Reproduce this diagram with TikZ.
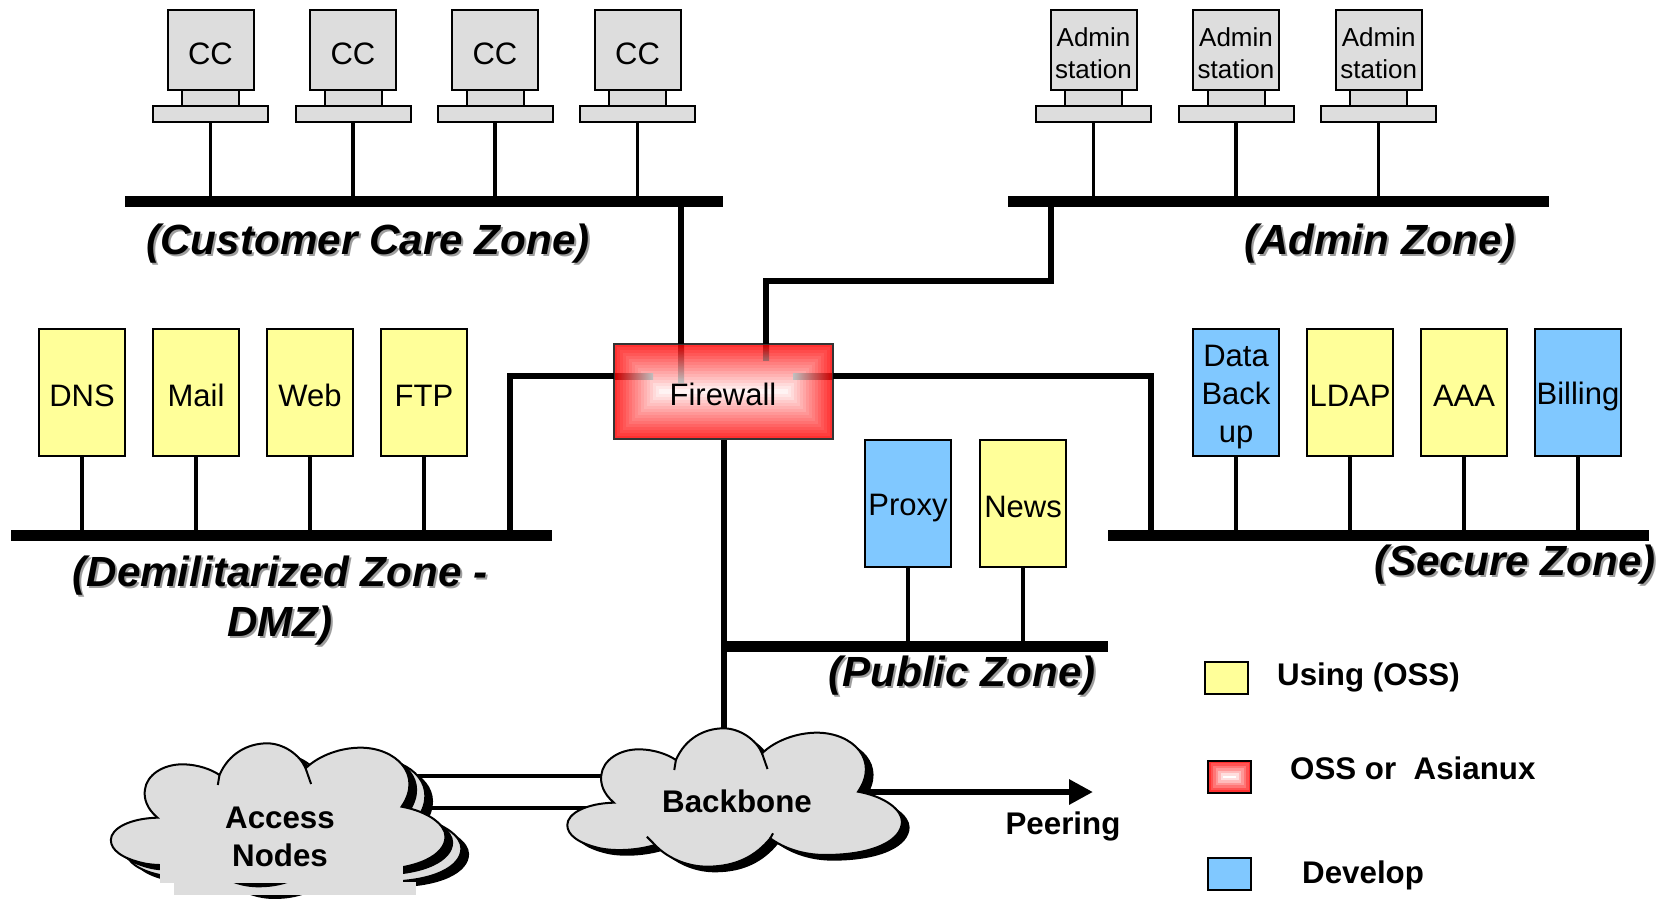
\documentclass[tikz,border=0pt]{standalone}
\usepackage{fontspec}
\setmainfont{Liberation Sans}
\usetikzlibrary{arrows.meta}
\definecolor{boxyellow}{HTML}{FFFF99}
\definecolor{boxblue}{HTML}{80C8FF}
\definecolor{boxgray}{HTML}{DDDDDD}
\definecolor{fwred}{HTML}{FF3030}
\newcommand{\sv}{\rule[-3pt]{0pt}{33pt}}
\newcommand{\cloudshape}{(1068,180)
 .. controls (1085,115) and (1120,85) .. (1155,85)
 .. controls (1185,85) and (1215,120) .. (1225,160)
 .. controls (1250,120) and (1290,98) .. (1325,98)
 .. controls (1390,98) and (1440,180) .. (1400,275)
 .. controls (1450,290) and (1480,330) .. (1480,365)
 .. controls (1480,420) and (1430,465) .. (1340,465)
 .. controls (1300,465) and (1265,445) .. (1240,415)
 .. controls (1215,465) and (1180,500) .. (1125,500)
 .. controls (1085,500) and (1050,470) .. (1030,435)
 .. controls (1000,450) and (960,455) .. (930,445)
 .. controls (890,430) and (870,405) .. (870,375)
 .. controls (870,340) and (905,310) .. (955,308)
 .. controls (935,280) and (930,250) .. (932,225)
 .. controls (935,180) and (965,148) .. (1000,148)
 .. controls (1030,148) and (1055,165) .. (1068,180) -- cycle}
\newcommand{\cloudtails}{(1068,180) -- (1065,210) (1225,160) -- (1235,207) (1245,400) -- (1240,415) (1015,410) -- (1030,435)}
\tikzset{
 x=1pt,y=-1pt,
 srv/.style={draw=black,line width=1.6pt,inner sep=0pt,minimum width=86pt,minimum height=127pt,font=\fontsize{31}{38}\selectfont,align=center},
 small/.style={draw=black,line width=2pt,fill=boxgray,inner sep=0pt},
 stem/.style={line width=3.5pt},
 bus/.style={line width=11pt},
 link/.style={line width=6pt},
 zone/.style={inner sep=0pt,font=\fontsize{42.2}{50}\bfseries\itshape\selectfont,align=center},
 legend/.style={inner sep=0pt,anchor=west,font=\fontsize{31.3}{38}\bfseries\selectfont},
 legbox/.style={draw=black,line width=2pt,inner sep=0pt,minimum width=43pt,minimum height=32pt},
 cloudline/.style={draw=black,line width=2pt,fill=boxgray},
 cloudscale/.style={shift={(90,700)},xscale=0.5486,yscale=0.3333},
}
\newcommand{\zonetext}[4]{%
 \node[zone,text=black!38] (#1s) at (#2+2,#3+2) {#4};
 \node[zone] (#1) at (#2,#3) {#4};}
\begin{document}
\begin{tikzpicture}
\useasboundingbox (0,0) rectangle (1663,898);
\fill[white] (0,0) rectangle (1663,898);
% bus ends
\coordinate (ccL) at (125,201); \coordinate (ccR) at (723,201);
\coordinate (adL) at (1008,201); \coordinate (adR) at (1549,201);
\coordinate (dmL) at (11,535.5); \coordinate (dmR) at (552,535.5);
\coordinate (seL) at (1108,535.5); \coordinate (seR) at (1649,535.5);
\coordinate (puL) at (723,646); \coordinate (puR) at (1108,646);
% computers
\foreach \n/\c in {1/210.5,2/353,3/495,4/637.5}{
 \node[small,minimum width=86pt,minimum height=80pt,font=\fontsize{31}{38}\selectfont] (cc\n) at (\c,50) {\rule{0pt}{30pt}CC};
 \node[small,minimum width=57pt,minimum height=16pt] (ccn\n) at (\c,98) {};
 \node[small,minimum width=115pt,minimum height=16pt] (ccb\n) at (\c,114) {};
 \draw[stem] (ccb\n.south) -- (ccb\n.south |- ccL);
}
\foreach \n/\c in {1/1093.5,2/1236,3/1378.7}{
 \node[small,minimum width=86pt,minimum height=80pt,align=center,font=\fontsize{26}{32}\selectfont] (ad\n) at (\c,50) {\rule{0pt}{26pt}Admin\\station};
 \node[small,minimum width=57pt,minimum height=16pt] (adn\n) at (\c,98) {};
 \node[small,minimum width=115pt,minimum height=16pt] (adb\n) at (\c,114) {};
 \draw[stem] (adb\n.south) -- (adb\n.south |- adL);
}
% servers
\foreach \n/\c/\f/\t in {dns/82/boxyellow/DNS,mail/196/boxyellow/Mail,web/310/boxyellow/Web,ftp/424/boxyellow/FTP}{
 \node[srv,fill=\f] (\n) at (\c,392.5) {\sv\t};
 \draw[stem] (\n.south) -- (\n.south |- dmL);
}
\foreach \n/\c/\f/\t in {data/1236/boxblue/{\sv Data\\\sv Back\\\sv up},ldap/1350/boxyellow/\sv LDAP,aaa/1464/boxyellow/\sv AAA,bill/1578/boxblue/\sv Billing}{
 \node[srv,fill=\f] (\n) at (\c,392.5) {\t};
 \draw[stem] (\n.south) -- (\n.south |- seL);
}
\foreach \n/\c/\f/\t in {proxy/908/boxblue/Proxy,news/1023/boxyellow/News}{
 \node[srv,fill=\f] (\n) at (\c,503.5) {\sv\t};
 \draw[stem] (\n.south) -- (\n.south |- puL);
}
% buses
\draw[bus] (ccL) -- (ccR);
\draw[bus] (adL) -- (adR);
\draw[bus] (dmL) -- (dmR);
\draw[bus] (seL) -- (seR);
\draw[bus] (puL) -- (puR);
% firewall
\node[draw=black!80,line width=2pt,fill=fwred,minimum width=219pt,minimum height=95pt,inner sep=0pt] (fw) at (723.5,391.5) {};
\foreach \i in {1,...,16}{
 \pgfmathsetmacro{\a}{\i*47.5/16}
 \pgfmathtruncatemacro{\p}{100-\i*100/16}
 \fill[fwred!\p!white] ([shift={(\a+1,\a+1)}]fw.north west) rectangle ([shift={(-\a-1,-\a-1)}]fw.south east);
}
\coordinate (fwCC) at (681,344); \coordinate (fwAd) at (766,344);
\coordinate (fwL) at (614,376); \coordinate (fwR) at (833,376);
\draw[link] (fwCC) -- (fwCC |- ccL);
\draw[link,line join=miter] (fwAd) -- (766,281) -- (1051,281) -- (1051,201);
\draw[link,line join=miter] (fwL) -- (510,376) -- (510,535.5);
\draw[link,line join=miter] (fwR) -- (1151,376) -- (1151,535.5);
\shade[top color=red!80!black,bottom color=black!25] (678,345) rectangle (684,382);
\shade[top color=red!80!black,bottom color=red!40!black!60] (763,345) rectangle (769,360);
\shade[left color=red!80!black,right color=black!25] (615,373) rectangle (653,379);
\shade[right color=red!80!black,left color=black!25] (793,373) rectangle (832,379);
\node[inner sep=0pt,font=\fontsize{31}{38}\selectfont] (fwtext) at (723,394) {Firewall};
% links to clouds
\coordinate (bbTop) at (723.5,735);
\draw[link] (fw.south) -- (bbTop);
\coordinate (acA) at (400,776); \coordinate (bbA) at (610,776);
\coordinate (acB) at (420,808); \coordinate (bbB) at (600,808);
\draw[line width=4pt] (acA) -- (bbA);
\draw[line width=4pt] (acB) -- (bbB);
\coordinate (bbR) at (866,792); \coordinate (peer) at (1093,792);
\draw[line width=6pt,-{Triangle[length=24pt,width=24pt]}] (bbR) -- (peer);
% access cloud, back layer
\begin{scope}[cloudscale,shift={(-803,80)}]
 \fill[black] [shift={(14,17)}] \cloudshape;
 \draw[cloudline] \cloudshape;
 \fill[boxgray] (956,465) rectangle (1398,505);
\end{scope}
% access cloud, front layer
\begin{scope}[cloudscale,shift={(-832,45)}]
 \fill[black] [shift={(14,17)}] \cloudshape;
 \draw[cloudline] \cloudshape;
 \draw[line width=2pt] \cloudtails;
 \fill[boxgray] (960,300) rectangle (1402,505);
\end{scope}
% backbone cloud
\begin{scope}[cloudscale]
 \fill[black] [shift={(14,17)}] \cloudshape;
 \draw[cloudline] \cloudshape;
 \draw[line width=2pt] \cloudtails;
\end{scope}
\node[inner sep=0pt,align=center,font=\fontsize{31.3}{38.5}\bfseries\selectfont] (access) at (280,837) {Access\\Nodes};
\node[inner sep=0pt,font=\fontsize{31.3}{38}\bfseries\selectfont] (bbone) at (737,801) {Backbone};
\node[inner sep=0pt,font=\fontsize{31.3}{38}\bfseries\selectfont] (peering) at (1063,826) {Peering};
% zone labels
\zonetext{zcc}{368}{243.5}{(Customer Care Zone)}
\zonetext{zad}{1380}{243.5}{(Admin Zone)}
\zonetext{zdm}{280}{600.5}{(Demilitarized Zone -\\DMZ)}
\zonetext{zse}{1515}{564.5}{(Secure Zone)}
\zonetext{zpu}{962}{676}{(Public Zone)}
% legend
\node[legbox,fill=boxyellow] (l1) at (1226.5,678) {};
\node[legbox,fill=fwred] (l2) at (1229.5,776.5) {};
\foreach \i in {1,...,6}{
 \pgfmathsetmacro{\a}{\i*15/6}
 \pgfmathtruncatemacro{\p}{100-\i*100/6}
 \fill[fwred!\p!white] ([shift={(\a+1,\a+1)}]l2.north west) rectangle ([shift={(-\a-1,-\a-1)}]l2.south east);
}
\node[legbox,fill=boxblue] (l3) at (1229,873.5) {};
\node[legend] (t1) at (1277,677) {Using (OSS)};
\node[legend] (t2) at (1290,768) {OSS or\ \ Asianux};
\node[legend] (t3) at (1302,875) {Develop};
\end{tikzpicture}
\end{document}
